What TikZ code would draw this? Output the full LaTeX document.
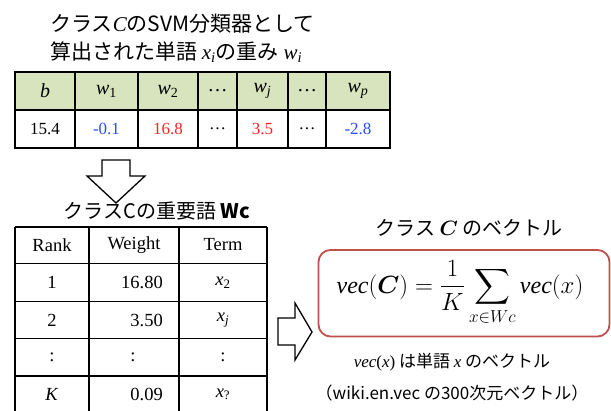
\documentclass[tikz,border=0pt]{standalone}
\usepackage{amsmath}
\usepackage{fontspec}
\setmainfont{Liberation Serif}
\newfontfamily\jp{Noto Sans CJK JP}
\definecolor{hdrgreen}{HTML}{D7E4BD}
\definecolor{valblue}{HTML}{2B4BFF}
\definecolor{valred}{HTML}{FF2222}
\definecolor{boxred}{HTML}{C0504D}
\begin{document}
\begin{tikzpicture}[x=1pt,y=-1pt,
  cell/.style={inner sep=0pt, font=\fontsize{17}{20}\selectfont},
  hcell/.style={inner sep=0pt, font=\fontsize{20}{24}\selectfont},
  bcell/.style={inner sep=0pt, font=\fontsize{18.5}{22}\selectfont},
  jtitle/.style={inner sep=0pt, font=\jp\fontsize{21}{24}\selectfont},
  jcap/.style={inner sep=0pt, font=\jp\fontsize{17}{20}\selectfont},
  grid/.style={line width=1.6pt, black},
  blockarrow/.style={line width=1.3pt, black, fill=white, line join=miter}]
\useasboundingbox (0,0) rectangle (611,411);

% ---- top titles
\node[jtitle, anchor=west] (t1) at (50,24) {クラス\textit{\rmfamily C}のSVM分類器として};
\node[jtitle, anchor=west] (t2) at (50,52) {算出された単語 {\rmfamily\textit{x}\textsubscript{\textit{i}}}の重み {\rmfamily\textit{w}\textsubscript{\textit{i}}}};

% ---- top table
\fill[hdrgreen] (15,72) rectangle (390,110);
\draw[grid] (15,72) rectangle (390,148);
\draw[grid] (15,110) -- (390,110);
\foreach \x in {75,138,198,237,288,326} \draw[grid] (\x,72) -- (\x,148);
\node[hcell] (hb) at (45,91) {\textit{b}};
\node[hcell] (hw1) at (106.5,91) {\textit{w}\textsubscript{1}};
\node[hcell] (hw2) at (168,91) {\textit{w}\textsubscript{2}};
\node[hcell] (hd1) at (217.5,91) {\dots};
\node[hcell] (hwj) at (262.5,91) {\textit{w}\textsubscript{\textit{j}}};
\node[hcell] (hd2) at (307,91) {\dots};
\node[hcell] (hwp) at (358,91) {\textit{w}\textsubscript{\textit{p}}};
\node[cell] (vb) at (45,129) {15.4};
\node[cell, text=valblue] (v1) at (106.5,129) {-0.1};
\node[cell, text=valred] (v2) at (168,129) {16.8};
\node[cell] (vd1) at (217.5,129) {\dots};
\node[cell, text=valred] (vj) at (262.5,129) {3.5};
\node[cell] (vd2) at (307,129) {\dots};
\node[cell, text=valblue] (vp) at (358,129) {-2.8};

% ---- down arrow
\draw[blockarrow] (102,160) -- (130,160) -- (130,176) -- (145,176) -- (116,203) -- (87,176) -- (102,176) -- cycle;

% ---- second title
\node[inner sep=0pt, font=\jp\fontsize{20}{24}\selectfont] (t3) at (157,211) {クラスCの重要語 \textbf{Wc}};

% ---- bottom table
\draw[grid, line width=1.3pt] (15,227) -- (267,227);
\foreach \y in {263.5,301.5,338.5,376} \draw[grid, line width=1.3pt] (15,\y) -- (267,\y);
\foreach \x in {15,89,179,267} \draw[grid, line width=1.3pt] (\x,227) -- (\x,415);
\node[bcell] (rh) at (52,245) {Rank};
\node[bcell] (wh) at (134,245) {Weight};
\node[bcell] (th) at (223,245) {Term};
\node[bcell] (r1) at (52,282.5) {1};
\node[bcell, anchor=east] (w1) at (163,282.5) {16.80};
\node[bcell] (x1) at (223,282.5) {\textit{x}\textsubscript{2}};
\node[bcell] (r2) at (52,320) {2};
\node[bcell, anchor=east] (w2) at (163,320) {3.50};
\node[bcell] (x2) at (223,320) {\textit{x}\textsubscript{\textit{j}}};
\node[bcell] (r3) at (52,357) {:};
\node[bcell] (w3) at (133,357) {:};
\node[bcell] (x3) at (223,357) {:};
\node[bcell] (r4) at (52,394.5) {\textit{K}};
\node[bcell, anchor=east] (w4) at (163,394.5) {0.09};
\node[bcell] (x4) at (223,394.5) {\textit{x}\textsubscript{?}};

% ---- right arrow
\draw[blockarrow] (278,318) -- (295,318) -- (295,303) -- (312,332) -- (295,360) -- (295,345) -- (278,345) -- cycle;

% ---- vector title and box
\node[inner sep=0pt, font=\jp\fontsize{20}{24}\selectfont] (t4) at (469,228) {クラス {\rmfamily$\boldsymbol{C}$} のベクトル};
\draw[boxred, line width=1.8pt, rounded corners=12pt, fill=white] (318.5,250) rectangle (609.5,336.5);
\node[inner sep=0pt] (f) at (460,293) {\fontsize{24}{28}\selectfont $\displaystyle \mathit{vec}(\boldsymbol{C}) = \frac{1}{K}\sum_{x\in Wc}\mathit{vec}(x)$};

% ---- captions
\node[jcap] (c1) at (452,362) {{\rmfamily\textit{vec}(\textit{x})} は単語 {\rmfamily\textit{x}} のベクトル};
\node[jcap] (c2) at (452,393) {（wiki.en.vec の300次元ベクトル）};
\end{tikzpicture}
\end{document}
